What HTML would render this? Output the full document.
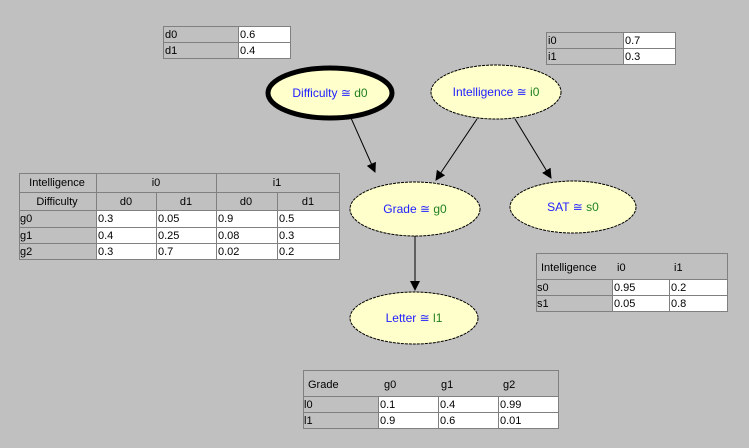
<!DOCTYPE html>
<html><head><style>
body{margin:0;background:#c0c0c0;}
svg{display:block;font-family:"Liberation Sans",sans-serif;font-size:11px;}
</style></head><body>
<svg width="749" height="448" xmlns="http://www.w3.org/2000/svg">
<rect width="749" height="448" fill="#c0c0c0"/>
<defs><marker id="a" markerWidth="10" markerHeight="10" refX="9" refY="5" orient="auto" markerUnits="userSpaceOnUse"><path d="M0,0 L10,5 L0,10 z" fill="#000"/></marker></defs>
<!-- edges -->
<g stroke="#000" stroke-width="1" marker-end="url(#a)">
<line x1="351" y1="118" x2="375" y2="172"/>
<line x1="477" y1="119" x2="436" y2="180"/>
<line x1="515" y1="119" x2="551" y2="178"/>
<line x1="415" y1="236" x2="415" y2="290"/>
</g>
<!-- nodes -->
<ellipse cx="330" cy="93" rx="62" ry="25" fill="#ffffcc" stroke="#000" stroke-width="5"/>
<text x="330" y="97" text-anchor="middle" font-size="12"><tspan fill="#2020ff">Difficulty ≅ </tspan><tspan fill="#208020">d0</tspan></text>
<ellipse cx="496" cy="92" rx="65" ry="27" fill="#ffffcc" stroke="#000" stroke-width="1" stroke-dasharray="3,1"/>
<text x="496" y="96" text-anchor="middle" font-size="12"><tspan fill="#2020ff">Intelligence ≅ </tspan><tspan fill="#208020">i0</tspan></text>
<ellipse cx="415" cy="209" rx="65" ry="27" fill="#ffffcc" stroke="#000" stroke-width="1" stroke-dasharray="3,1"/>
<text x="415" y="213" text-anchor="middle" font-size="12"><tspan fill="#2020ff">Grade ≅ </tspan><tspan fill="#208020">g0</tspan></text>
<ellipse cx="573" cy="207" rx="63" ry="26" fill="#ffffcc" stroke="#000" stroke-width="1" stroke-dasharray="3,1"/>
<text x="573" y="211" text-anchor="middle" font-size="12"><tspan fill="#2020ff">SAT ≅ </tspan><tspan fill="#208020">s0</tspan></text>
<ellipse cx="414" cy="318" rx="64" ry="26" fill="#ffffcc" stroke="#000" stroke-width="1" stroke-dasharray="3,1"/>
<text x="414" y="322" text-anchor="middle" font-size="12"><tspan fill="#2020ff">Letter ≅ </tspan><tspan fill="#208020">l1</tspan></text>

<g stroke="#808080" stroke-width="1">
<!-- d table -->
<rect x="163.5" y="26.5" width="75" height="32" fill="#c0c0c0"/>
<rect x="238.5" y="26.5" width="52" height="32" fill="#fff"/>
<line x1="163" y1="42.5" x2="291" y2="42.5"/>
<!-- i table -->
<rect x="546.5" y="32.5" width="77" height="32" fill="#c0c0c0"/>
<rect x="623.5" y="32.5" width="52" height="32" fill="#fff"/>
<line x1="546" y1="48.5" x2="676" y2="48.5"/>
<!-- grade table -->
<rect x="19.5" y="173.5" width="320" height="86" fill="#c0c0c0"/>
<rect x="96.5" y="210.5" width="243" height="49" fill="#fff"/>
<line x1="19" y1="192.5" x2="340" y2="192.5"/>
<line x1="19" y1="210.5" x2="340" y2="210.5"/>
<line x1="19" y1="227.5" x2="340" y2="227.5"/>
<line x1="19" y1="243.5" x2="340" y2="243.5"/>
<line x1="96.5" y1="173" x2="96.5" y2="260"/>
<line x1="216.5" y1="173" x2="216.5" y2="260"/>
<line x1="156.5" y1="192" x2="156.5" y2="260"/>
<line x1="277.5" y1="192" x2="277.5" y2="260"/>
<!-- SAT table -->
<rect x="536.5" y="253.5" width="191" height="58" fill="#c0c0c0"/>
<rect x="612.5" y="279.5" width="115" height="32" fill="#fff"/>
<line x1="536" y1="295.5" x2="728" y2="295.5"/>
<line x1="612.5" y1="279" x2="612.5" y2="312"/>
<line x1="669.5" y1="279" x2="669.5" y2="312"/>
<line x1="536" y1="279.5" x2="612" y2="279.5"/>
<!-- Letter table -->
<rect x="303.5" y="370.5" width="255" height="58" fill="#c0c0c0"/>
<rect x="378.5" y="396.5" width="180" height="32" fill="#fff"/>
<line x1="303" y1="412.5" x2="559" y2="412.5"/>
<line x1="378.5" y1="396" x2="378.5" y2="429"/>
<line x1="438.5" y1="396" x2="438.5" y2="429"/>
<line x1="498.5" y1="396" x2="498.5" y2="429"/>
<line x1="303" y1="396.5" x2="378" y2="396.5"/>
</g>
<g fill="#000">
<text x="165" y="38">d0</text><text x="240" y="38">0.6</text>
<text x="165" y="54">d1</text><text x="240" y="54">0.4</text>
<text x="548" y="44">i0</text><text x="625" y="44">0.7</text>
<text x="548" y="60">i1</text><text x="625" y="60">0.3</text>

<text x="57" y="186" text-anchor="middle">Intelligence</text>
<text x="156" y="186" text-anchor="middle">i0</text>
<text x="277" y="186" text-anchor="middle">i1</text>
<text x="57" y="205" text-anchor="middle">Difficulty</text>
<text x="126" y="205" text-anchor="middle">d0</text>
<text x="186" y="205" text-anchor="middle">d1</text>
<text x="246" y="205" text-anchor="middle">d0</text>
<text x="308" y="205" text-anchor="middle">d1</text>
<text x="20" y="222">g0</text><text x="98" y="222">0.3</text><text x="158" y="222">0.05</text><text x="218" y="222">0.9</text><text x="279" y="222">0.5</text>
<text x="20" y="239">g1</text><text x="98" y="239">0.4</text><text x="158" y="239">0.25</text><text x="218" y="239">0.08</text><text x="279" y="239">0.3</text>
<text x="20" y="255">g2</text><text x="98" y="255">0.3</text><text x="158" y="255">0.7</text><text x="218" y="255">0.02</text><text x="279" y="255">0.2</text>

<text x="541" y="271">Intelligence</text><text x="617" y="271">i0</text><text x="674" y="271">i1</text>
<text x="537" y="291">s0</text><text x="614" y="291">0.95</text><text x="671" y="291">0.2</text>
<text x="537" y="307">s1</text><text x="614" y="307">0.05</text><text x="671" y="307">0.8</text>

<text x="308" y="388">Grade</text><text x="384" y="388">g0</text><text x="441" y="388">g1</text><text x="503" y="388">g2</text>
<text x="304" y="408">l0</text><text x="380" y="408">0.1</text><text x="440" y="408">0.4</text><text x="500" y="408">0.99</text>
<text x="304" y="424">l1</text><text x="380" y="424">0.9</text><text x="440" y="424">0.6</text><text x="500" y="424">0.01</text>
</g>
</svg>
</body></html>
